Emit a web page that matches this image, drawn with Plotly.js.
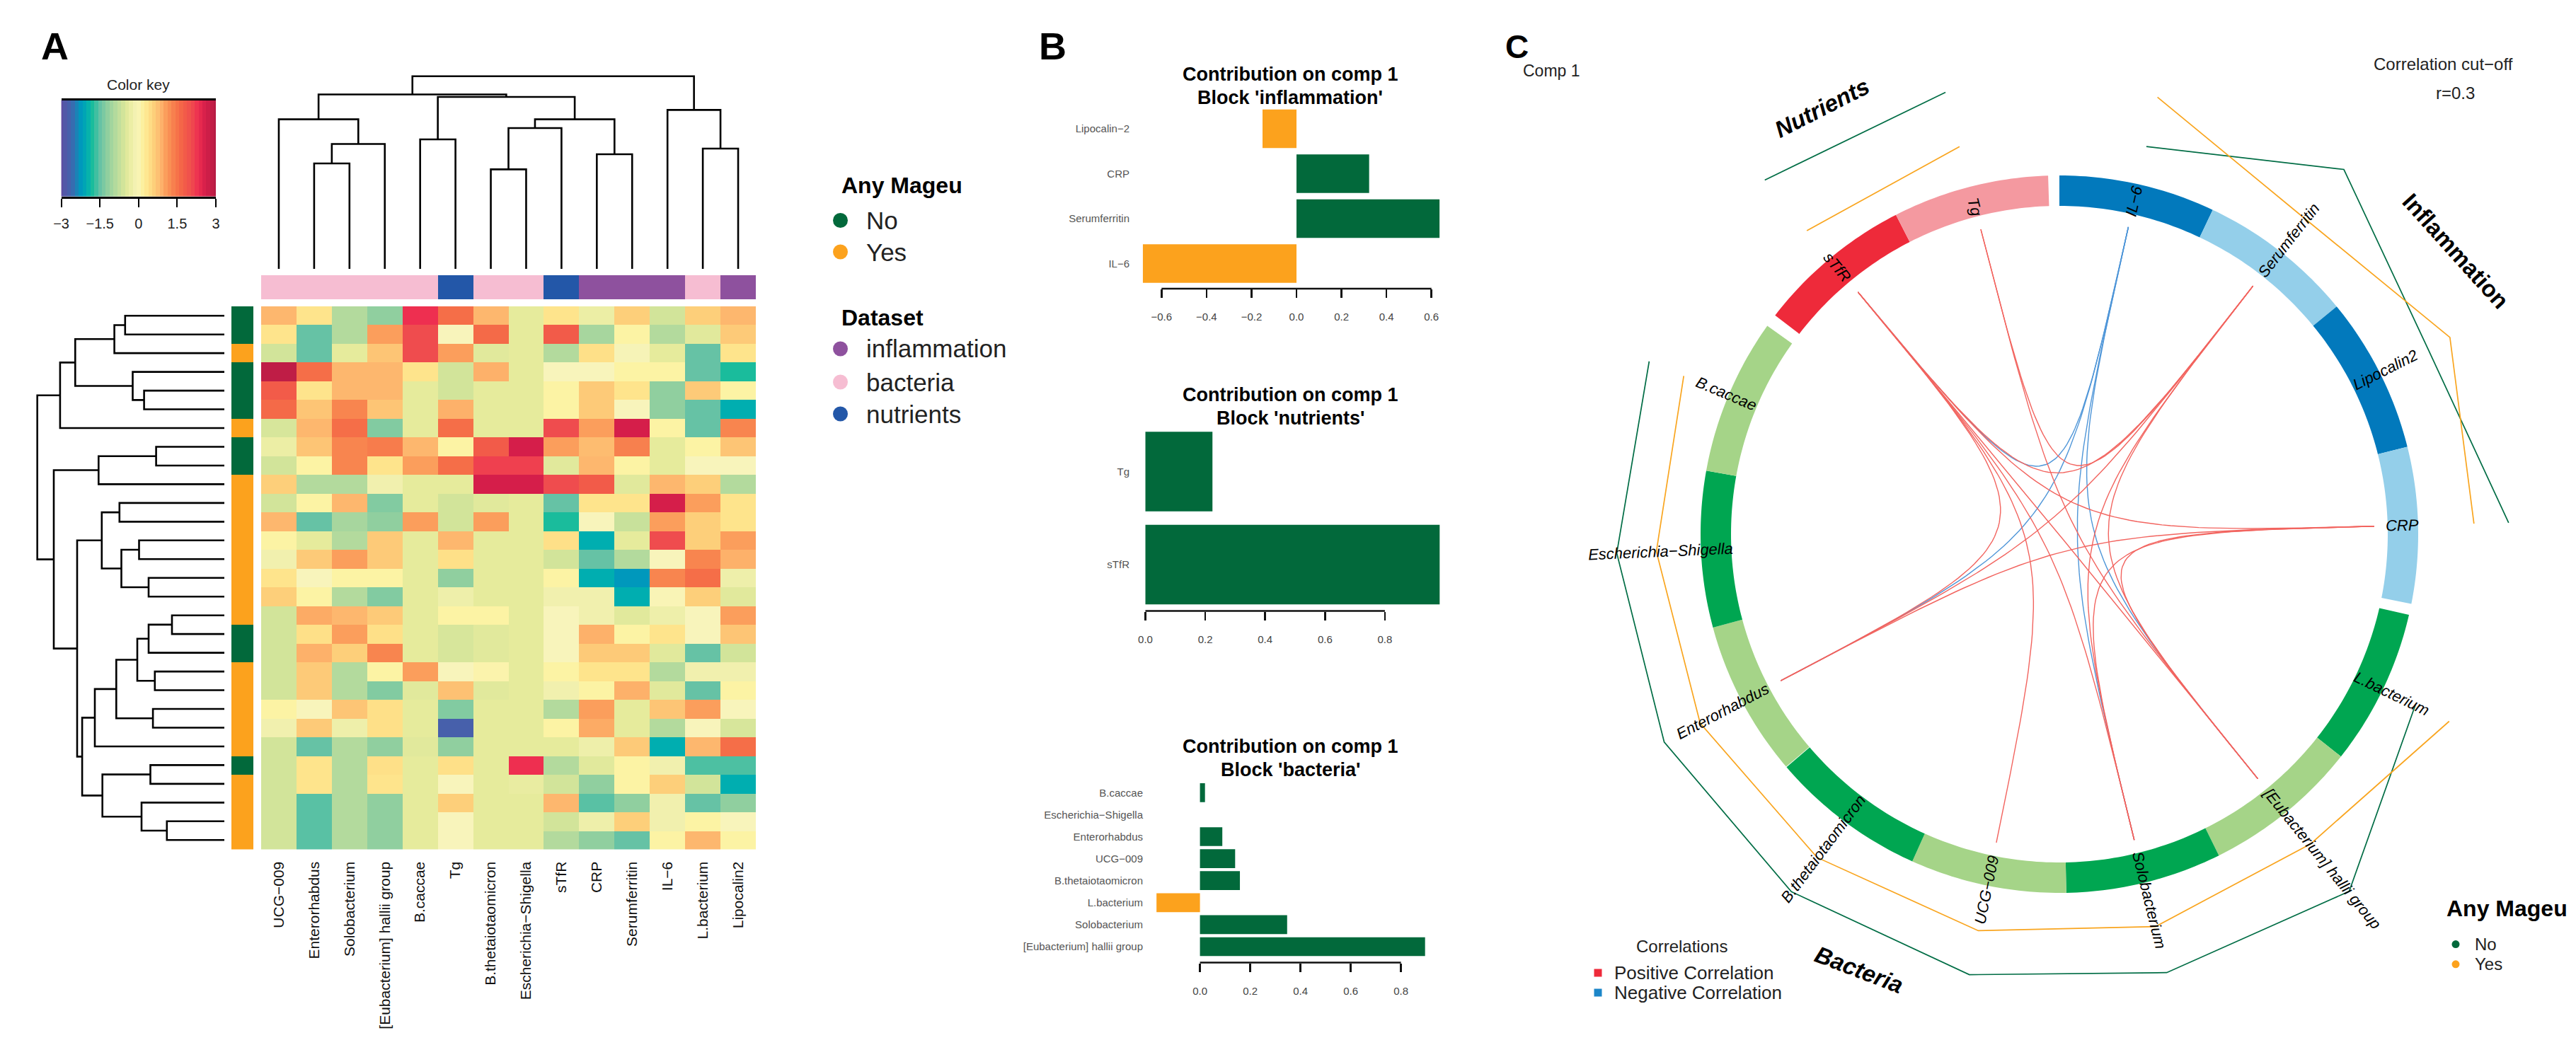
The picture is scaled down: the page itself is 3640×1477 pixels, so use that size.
<!DOCTYPE html>
<html><head><meta charset="utf-8">
<script src="https://cdn.plot.ly/plotly-3.0.1.min.js"></script>
<style>html,body{margin:0;padding:0;background:#fff}</style></head>
<body><div id="chart" style="width:3640px;height:1477px"></div>
<script>
// ---------- DATA ----------
const heatColumns = ['UCG−009','Enterorhabdus','Solobacterium','[Eubacterium] hallii group','B.caccae','Tg','B.thetaiotaomicron','Escherichia−Shigella','sTfR','CRP','Serumferritin','IL−6','L.bacterium','Lipocalin2'];
const columnDataset = ['bacteria','bacteria','bacteria','bacteria','bacteria','nutrients','bacteria','bacteria','nutrients','inflammation','inflammation','inflammation','bacteria','inflammation'];
const rowMageu = ['No','No','Yes','No','No','No','Yes','No','No','Yes','Yes','Yes','Yes','Yes','Yes','Yes','Yes','No','No','Yes','Yes','Yes','Yes','Yes','No','Yes','Yes','Yes','Yes'];
const heatValues = [
[0.85,0.35,-0.9,-1.2,2.3,1.55,0.85,-0.4,0.35,-0.3,0.6,-0.6,0.6,0.85],
[0.35,-1.5,-0.9,1.05,2.05,-0.05,1.6,-0.4,1.8,-1.0,0.1,-0.9,-0.45,0.65],
[-0.6,-1.5,-0.4,0.7,2.05,1.05,-0.45,-0.4,-0.9,0.4,-0.1,-0.4,-1.5,0.35],
[2.9,1.55,0.85,0.85,0.35,-0.6,0.9,-0.4,-0.05,-0.05,0.1,0.1,-1.5,-1.8],
[1.8,0.35,0.85,0.85,-0.4,-0.6,-0.4,-0.4,0.1,0.65,0.35,-1.2,0.65,0.1],
[1.6,0.7,1.3,0.7,-0.4,0.9,-0.4,-0.4,0.1,0.65,-0.05,-1.2,-1.5,-2.0],
[-0.55,0.85,1.55,-1.3,-0.4,1.55,-0.4,-0.4,2.05,1.05,2.6,0.1,-1.5,1.3],
[-0.3,0.7,1.3,1.4,0.85,0.1,1.8,2.6,1.05,0.8,1.35,-0.4,0.1,0.7],
[-0.6,0.1,1.3,0.35,1.05,1.55,2.15,2.15,-0.45,0.85,0.1,-0.4,-0.05,-0.05],
[0.6,-0.9,-0.9,-0.2,-0.4,-0.4,2.6,2.6,2.05,1.8,-0.45,0.85,0.6,-0.9],
[-0.6,0.1,0.85,-1.3,-0.4,-0.6,-0.45,-0.4,-1.5,0.35,0.35,2.6,1.05,0.35],
[0.85,-1.5,-1.0,-1.2,1.05,-0.6,1.05,-0.4,-1.8,-0.05,-0.7,1.05,0.6,0.35],
[0.1,-0.4,-0.9,0.65,-0.4,0.85,-0.4,-0.4,0.4,-2.0,-0.4,2.05,0.6,1.05],
[-0.2,0.65,1.05,0.65,-0.4,0.4,-0.4,-0.4,-0.6,-1.5,-0.9,-0.05,1.3,0.9],
[0.35,-0.05,0.1,0.1,-0.4,-1.2,-0.4,-0.4,0.1,-2.0,-2.25,1.3,1.55,-0.25],
[0.6,0.1,-0.9,-1.3,-0.4,-0.25,-0.4,-0.4,-0.2,-0.2,-2.0,-0.02,0.6,-0.45],
[-0.6,0.95,0.85,0.65,-0.4,0.1,0.1,-0.4,-0.05,-0.2,-0.45,-0.25,-0.05,1.05],
[-0.6,0.4,1.05,0.4,-0.4,-0.55,-0.45,-0.4,-0.05,0.9,0.1,0.35,-0.05,0.7],
[-0.6,0.9,0.6,1.3,-0.4,-0.55,-0.45,-0.4,-0.05,0.65,0.65,-0.45,-1.5,-0.6],
[-0.6,0.65,-0.9,0.1,1.05,-0.05,0.05,-0.4,0.1,0.35,0.35,-0.9,-0.2,-0.2],
[-0.6,0.65,-0.9,-1.3,-0.45,0.75,-0.45,-0.4,-0.2,0.1,0.9,-0.45,-1.5,0.1],
[0.1,-0.05,0.7,0.4,-0.4,-1.3,-0.4,-0.4,-0.9,1.05,-0.4,0.7,1.05,-0.05],
[-0.2,0.65,-0.25,0.4,-0.4,-2.7,-0.4,-0.4,0.1,0.95,-0.4,-0.9,-0.05,-0.55],
[-0.6,-1.5,-0.9,-1.2,-0.45,-1.2,-0.4,-0.4,-0.4,-0.25,0.65,-2.0,0.85,1.55],
[-0.6,0.35,-0.9,0.4,-0.4,0.4,-0.4,2.3,-0.9,-0.45,0.1,-0.2,-1.6,-1.6],
[-0.6,0.35,-0.9,0.35,-0.4,-0.05,-0.4,-0.35,-0.6,-1.2,0.1,0.6,-0.6,-2.0],
[-0.6,-1.55,-0.9,-1.2,-0.4,0.6,-0.4,-0.4,0.85,-1.55,-1.2,-0.2,-1.5,-1.2],
[-0.6,-1.55,-0.9,-1.2,-0.4,-0.05,-0.4,-0.4,-0.6,-0.25,0.6,-0.2,0.1,-0.05],
[-0.6,-1.55,-0.9,-1.2,-0.4,-0.05,-0.4,-0.4,-0.9,-1.2,-1.5,0.1,0.85,0.1]
];
const colorKeyLevels = [-3,-2.85,-2.7,-2.55,-2.4,-2.25,-2.1,-1.95,-1.8,-1.65,-1.5,-1.35,-1.2,-1.05,-0.9,-0.75,-0.6,-0.45,-0.3,-0.15,0,0.15,0.3,0.45,0.6,0.75,0.9,1.05,1.2,1.35,1.5,1.65,1.8,1.95,2.1,2.25,2.4,2.55,2.7,2.85,3];
const colorKeyTicks = [-3,-1.5,0,1.5,3];
// dendrogram merges: [a, b, height]; negative = leaf number, positive = earlier merge number
const columnMerges = [[-2,-3,149],[1,-4,176.5],[-1,2,211.4],[-5,-6,183],[-7,-8,140.6],[5,-9,199],[-10,-11,162],[6,7,211.4],[4,8,243],[3,9,246.5],[-13,-14,170],[-12,11,224.6],[10,12,272.3]];
const rowMerges = [[-1,-2,140.2],[1,-3,155.4],[-5,-6,113.4],[-4,3,129.5],[2,4,210.7],[5,-7,232.1],[-8,-9,96.4],[7,-10,177.7],[-11,-12,148.2],[-13,-14,120.5],[-15,-16,107],[10,11,145.5],[9,12,173.2],[-17,-18,74],[14,-19,107],[-20,-21,98.2],[15,16,123],[-22,-23,100.9],[17,18,152.7],[19,-24,183],[-25,-26,104.5],[-28,-29,81.2],[-27,22,117],[21,23,172.3],[20,24,200.9],[13,25,208],[8,26,241],[6,27,264.3]];

const inflCats = ['Lipocalin−2','CRP','Serumferritin','IL−6'];
const inflVals = [-0.151,0.323,0.636,-0.683];
const nutrCats = ['Tg','sTfR'];
const nutrVals = [0.224,0.983];
const bactCats = ['B.caccae','Escherichia−Shigella','Enterorhabdus','UCG−009','B.thetaiotaomicron','L.bacterium','Solobacterium','[Eubacterium] hallii group'];
const bactVals = [0.02,0,0.089,0.14,0.159,-0.173,0.347,0.896];
const inflTicks = [-0.6,-0.4,-0.2,0,0.2,0.4,0.6];
const nutrTicks = [0,0.2,0.4,0.6,0.8];
const bactTicks = [0,0.2,0.4,0.6,0.8];

// circos sectors, clockwise, angles in degrees from 12 o'clock
const inflFeatures = ['IL−6','Serumferritin','Lipocalin2','CRP'];
const inflStarts = [0,25.3,50.6,75.9];
const bactFeatures = ['L.bacterium','[Eubacterium] hallii group','Solobacterium','UCG−009','B.thetaiotaomicron','Enterorhabdus','Escherichia−Shigella','B.caccae'];
const bactStarts = [103,128.3,153.6,178.9,204.2,229.6,254.9,280.2];
const nutrFeatures = ['sTfR','Tg'];
const nutrStarts = [307.6,332.9];
const sectorSpan = 25.3;
const labelLens = {'IL−6':38,'Serumferritin':128,'Lipocalin2':106,'CRP':44,'L.bacterium':116,'[Eubacterium] hallii group':254,'Solobacterium':140,'UCG−009':100,'B.thetaiotaomicron':186,'Enterorhabdus':150,'Escherichia−Shigella':202,'B.caccae':95,'sTfR':56,'Tg':30};
// mean expression lines, radial distance per feature
const inflNoLine = [561.5,653.7,583,635];
const inflYesLine = [633,565,618,586];
const bactNoLine = [558,650,638,635.5,631.5,631,626,629];
const bactYesLine = [611,563.6,571,572,571,573.6,570,576];
const nutrNoLine = [651,645];
const nutrYesLine = [558,565.6];
// chords: [feature, feature]
const positiveChords = [['sTfR','Serumferritin'],['sTfR','CRP'],['sTfR','[Eubacterium] hallii group'],['sTfR','Solobacterium'],['sTfR','UCG−009'],['sTfR','Enterorhabdus'],['Tg','Serumferritin'],['Tg','[Eubacterium] hallii group'],['Serumferritin','Enterorhabdus'],['Serumferritin','Solobacterium'],['Serumferritin','[Eubacterium] hallii group'],['CRP','Enterorhabdus'],['CRP','Solobacterium'],['CRP','[Eubacterium] hallii group']];
const negativeChords = [['sTfR','IL−6'],['IL−6','Enterorhabdus'],['IL−6','Solobacterium'],['IL−6','[Eubacterium] hallii group']];

// ---------- STYLE ----------
const W=3640,H=1477,FONT='Liberation Sans';
const GREEN='#02693b',ORANGE='#fca21d';
const spectral=[[-3,'#5e4fa2'],[-2.6,'#3f66ae'],[-2.25,'#0098bc'],[-2,'#00aeb0'],[-1.8,'#1abc9c'],[-1.5,'#66c2a5'],[-1.2,'#90cf9f'],[-0.9,'#b3da9d'],[-0.6,'#d2e49a'],[-0.4,'#e6eb9c'],[-0.2,'#f1f0ae'],[-0.05,'#f8f4bb'],[0.1,'#fcf3a4'],[0.35,'#fee48c'],[0.6,'#fdcf7a'],[0.85,'#fdb76e'],[1.05,'#fb9e5c'],[1.3,'#f8854f'],[1.55,'#f56e48'],[1.8,'#f25b49'],[2.05,'#ef4c4e'],[2.3,'#ee2f50'],[2.6,'#d51e4a'],[3,'#b71c44']].map(([v,c])=>[(v+3)/6,c]);

const traces=[],shapes=[],annotations=[];
const layout={width:W,height:H,margin:{l:0,r:0,t:0,b:0},paper_bgcolor:'#fff',plot_bgcolor:'rgba(0,0,0,0)',showlegend:false,hovermode:false,font:{family:FONT,color:'#000'},shapes,annotations};
let axisCount=0;
const hidden={visible:false,fixedrange:true,showgrid:false,zeroline:false};
function axes(xpx,ypx,xo,yo){ axisCount++; const s=axisCount===1?'':axisCount;
  layout['xaxis'+s]=Object.assign({},hidden,{domain:[xpx[0]/W,xpx[1]/W],anchor:'y'+s},xo);
  layout['yaxis'+s]=Object.assign({},hidden,{domain:[1-ypx[1]/H,1-ypx[0]/H],anchor:'x'+s},yo);
  return {xaxis:'x'+s,yaxis:'y'+s};
}
function label(text,X,Y,o){o=o||{};
  annotations.push({text:o.bold?'<b>'+(o.italic?'<i>'+text+'</i>':text)+'</b>':(o.italic?'<i>'+text+'</i>':text),x:X/W,y:1-Y/H,xref:'paper',yref:'paper',showarrow:false,xanchor:o.anchor||'center',yanchor:'middle',textangle:o.angle||0,font:{size:o.size||24,family:FONT,color:o.color||'#000'}});
}

// ---------- PANEL A ----------
const HX=[369,1068],HY=[433,1200.5];
const colRange=[-0.5,13.5],rowRange=[28.5,-0.5];
traces.push(Object.assign({type:'heatmap',z:heatValues,x:heatColumns.map((_,i)=>i),zmin:-3,zmax:3,colorscale:spectral,showscale:false,hoverinfo:'skip'},
 axes(HX,HY,{range:colRange,visible:true,tickmode:'array',tickvals:heatColumns.map((_,i)=>i),ticktext:heatColumns,tickangle:-90,ticks:'',showline:false,tickfont:{size:21,color:'#111'},ticklabelstandoff:12},{range:rowRange})));

// column annotation bar
const dsColor={inflammation:'#8e519e',bacteria:'#f6bdd2',nutrients:'#2357a8'},dsNames=Object.keys(dsColor);
traces.push(Object.assign({type:'heatmap',z:[columnDataset.map(d=>dsNames.indexOf(d))],zmin:0,zmax:2,showscale:false,hoverinfo:'skip',
 colorscale:[[0,dsColor.inflammation],[0.33,dsColor.inflammation],[0.33,dsColor.bacteria],[0.67,dsColor.bacteria],[0.67,dsColor.nutrients],[1,dsColor.nutrients]]},
 axes(HX,[389,423],{range:colRange},{range:[-0.5,0.5]})));

// row annotation bar
traces.push(Object.assign({type:'heatmap',z:rowMageu.map(m=>[m==='Yes'?1:0]),zmin:0,zmax:1,showscale:false,hoverinfo:'skip',
 colorscale:[[0,GREEN],[0.5,GREEN],[0.5,ORANGE],[1,ORANGE]]},
 axes([327,358],HY,{range:[-0.5,0.5]},{range:rowRange})));

function dendro(merges){ // returns segments in (position,height)
  const pos=[],hgt=[];const P=[],Q=[];
  const at=i=>i<0?[-i-1,0]:[pos[i-1],hgt[i-1]];
  merges.forEach(([a,b,h])=>{const [pa,ha]=at(a),[pb,hb]=at(b);
    P.push(pa,pa,pb,pb,null);Q.push(ha,h,h,hb,null);pos.push((pa+pb)/2);hgt.push(h);});
  return {P,Q};
}
const cd=dendro(columnMerges);
traces.push(Object.assign({type:'scatter',mode:'lines',x:cd.P,y:cd.Q,line:{color:'#000',width:2.6},hoverinfo:'skip'},
 axes(HX,[100,380],{range:colRange},{range:[0,280]})));
const rd=dendro(rowMerges);
traces.push(Object.assign({type:'scatter',mode:'lines',x:rd.Q,y:rd.P,line:{color:'#000',width:2.6},hoverinfo:'skip'},
 axes([17,317],HY,{range:[300,0]},{range:rowRange})));

// colour key
traces.push(Object.assign({type:'heatmap',z:[colorKeyLevels],x:colorKeyLevels,zmin:-3,zmax:3,colorscale:spectral,showscale:false,hoverinfo:'skip'},
 axes([86.6,305],[141.6,278],{range:[-3,3],visible:true,tickmode:'array',tickvals:colorKeyTicks,ticktext:['−3','−1.5','0','1.5','3'],ticks:'outside',ticklen:12,tickwidth:2,tickcolor:'#000',showline:true,linecolor:'#000',linewidth:3,mirror:true,tickfont:{size:20,color:'#222'},ticklabelstandoff:6},{range:[-0.5,0.5]})));
label('Color key',195.5,120,{size:21,color:'#222'});

label('A',77,65,{size:54,bold:true});
label('Any Mageu',1187,262,{size:32,bold:true,anchor:'left'});
label('No',1222,311.5,{size:35,anchor:'left',color:'#222'});
label('Yes',1222,356,{size:35,anchor:'left',color:'#222'});
label('Dataset',1187,449,{size:32,bold:true,anchor:'left'});
label('inflammation',1222,493,{size:35,anchor:'left',color:'#222'});
label('bacteria',1222,540,{size:35,anchor:'left',color:'#222'});
label('nutrients',1222,585,{size:35,anchor:'left',color:'#222'});

// ---------- PANEL B ----------
function barPanel(p){
  const xr=[(p.xl-p.x0)/p.sx,(p.xr-p.x0)/p.sx];
  const yr=[(p.bottom-p.c0)/p.pitch,(p.top-p.c0)/p.pitch];
  const ax=axes([p.xl,p.xr],[p.top,p.bottom],
   {range:xr,visible:true,tickmode:'array',tickvals:p.ticks,ticktext:p.ticks.map(v=>(v<0?'−':'')+Math.abs(v).toFixed(1)),ticks:'outside',ticklen:12,tickwidth:2.5,tickcolor:'#111',showline:false,tickfont:{size:15,color:'#444'},ticklabelstandoff:p.standoff},
   {type:'category',categoryorder:'array',categoryarray:p.cats,range:yr,visible:true,showline:false,ticks:'',tickfont:{size:15,color:'#555'}});
  traces.push(Object.assign({type:'bar',orientation:'h',y:p.cats,x:p.vals,width:0.857,marker:{color:p.vals.map(v=>v<0?ORANGE:GREEN),line:{width:0}},hoverinfo:'skip'},ax));
  shapes.push({type:'line',xref:ax.xaxis,yref:'paper',x0:p.ticks[0],x1:p.ticks[p.ticks.length-1],y0:1-p.bottom/H,y1:1-p.bottom/H,line:{color:'#111',width:2.5}});
}
barPanel({cats:inflCats,vals:inflVals,ticks:inflTicks,x0:1832,sx:317.8,c0:182,pitch:63.5,xl:1597,xr:2050,top:150,bottom:408,standoff:14});
barPanel({cats:nutrCats,vals:nutrVals,ticks:nutrTicks,x0:1618.5,sx:423,c0:666.5,pitch:131.5,xl:1597,xr:2050,top:600,bottom:863.6,standoff:14});
barPanel({cats:bactCats,vals:bactVals,ticks:bactTicks,x0:1695.6,sx:355,c0:1120.3,pitch:31.1,xl:1616,xr:2050,top:1095,bottom:1360.5,standoff:14});
function barTitle(block,y1){label('Contribution on comp 1',1823,y1,{size:27,bold:true});label("Block '"+block+"'",1823,y1+33,{size:27,bold:true});}
barTitle('inflammation',105);barTitle('nutrients',558);barTitle('bacteria',1055);
label('B',1487,65,{size:54,bold:true});

// ---------- PANEL C ----------
const CX=2910,CY=755,RO=507,RI=464,RC=445;
const circAxes=axes([0,W],[0,H],{range:[-CX,W-CX]},{range:[CY-H,CY]});
const polar=(r,a)=>[r*Math.sin(a*Math.PI/180),r*Math.cos(a*Math.PI/180)];
const theta={};
function sectors(names,starts,colors){
  names.forEach((n,i)=>{const a0=starts[i],a1=a0+sectorSpan;theta[n]=(a0+a1)/2;
    const xs=[],ys=[];
    for(let k=0;k<=30;k++){const [x,y]=polar(RO,a0+(a1-a0)*k/30);xs.push(x);ys.push(y);}
    for(let k=30;k>=0;k--){const [x,y]=polar(RI,a0+(a1-a0)*k/30);xs.push(x);ys.push(y);}
    traces.push(Object.assign({type:'scatter',mode:'none',x:xs,y:ys,fill:'toself',fillcolor:colors[i%colors.length],hoverinfo:'skip'},circAxes));
  });
}
sectors(inflFeatures,inflStarts,['#0279bc','#94cfea']);
sectors(bactFeatures,bactStarts,['#00a651','#a5d488']);
sectors(nutrFeatures,nutrStarts,['#ee2a3a','#f499a0']);

function chords(list,color){
  const xs=[],ys=[];
  list.forEach(([a,b])=>{const P=polar(RC,theta[a]),Q=polar(RC,theta[b]);
    for(let k=0;k<=60;k++){const t=k/60,u=(1-t)**3,v=t**3;xs.push(u*P[0]+v*Q[0]);ys.push(u*P[1]+v*Q[1]);}
    xs.push(null);ys.push(null);});
  traces.push(Object.assign({type:'scatter',mode:'lines',x:xs,y:ys,line:{color,width:1.4},hoverinfo:'skip'},circAxes));
}
chords(negativeChords,'#4f96d8');
chords(positiveChords,'#f2645f');

function meanLine(names,vals,color){
  const pts=names.map((n,i)=>polar(vals[i],theta[n]));
  traces.push(Object.assign({type:'scatter',mode:'lines',x:pts.map(p=>p[0]),y:pts.map(p=>p[1]),line:{color,width:1.7},hoverinfo:'skip'},circAxes));
}
meanLine(inflFeatures,inflNoLine,'#016d45');meanLine(inflFeatures,inflYesLine,'#f9a51f');
meanLine(bactFeatures,bactNoLine,'#016d45');meanLine(bactFeatures,bactYesLine,'#f9a51f');
meanLine(nutrFeatures,nutrNoLine,'#016d45');meanLine(nutrFeatures,nutrYesLine,'#f9a51f');

[...inflFeatures,...bactFeatures,...nutrFeatures].forEach(n=>{
  const t=theta[n],rc=463+labelLens[n]/2,[x,y]=polar(rc,t);
  label(n,CX+x,CY-y,{size:22,italic:true,angle:t<180?t-90:t-270});
});
label('Nutrients',2574,152,{size:33,bold:true,italic:true,angle:-27});
label('Inflammation',3470,354,{size:33,bold:true,angle:48});
label('Bacteria',2627,1370,{size:33,bold:true,italic:true,angle:21});
label('C',2143,66,{size:46,bold:true});
label('Comp 1',2192,100,{size:23,color:'#222'});
label('Correlation cut−off',3452,91,{size:24,color:'#222'});
label('r=0.3',3469,131,{size:24,color:'#222'});
label('Correlations',2376,1337,{size:24,color:'#222'});
label('Positive Correlation',2279,1374.5,{size:26,anchor:'left',color:'#222'});
label('Negative Correlation',2279,1402.7,{size:26,anchor:'left',color:'#222'});
label('Any Mageu',3455,1284,{size:32,bold:true,anchor:'left'});
label('No',3495,1334.6,{size:24,anchor:'left',color:'#222'});
label('Yes',3495,1362.8,{size:24,anchor:'left',color:'#222'});

// legend keys
const keyAxes=axes([0,W],[0,H],{range:[0,W]},{range:[H,0]});
function keys(xs,ys,colors,size,sym){traces.push(Object.assign({type:'scatter',mode:'markers',x:xs,y:ys,marker:{color:colors,size,symbol:sym||'circle',line:{width:0}},hoverinfo:'skip'},keyAxes));}
keys([1187.5,1187.5],[311.5,356],[GREEN,ORANGE],21);
keys([1187.5,1187.5,1187.5],[493,540,585],[dsColor.inflammation,dsColor.bacteria,dsColor.nutrients],21);
keys([2258,2258],[1375,1403],['#ee2a3a','#1c86c8'],11,'square');
keys([3470,3470],[1334.6,1362.8],[GREEN,ORANGE],11);

Plotly.newPlot('chart',traces,layout,{staticPlot:true,displayModeBar:false});
</script></body></html>
